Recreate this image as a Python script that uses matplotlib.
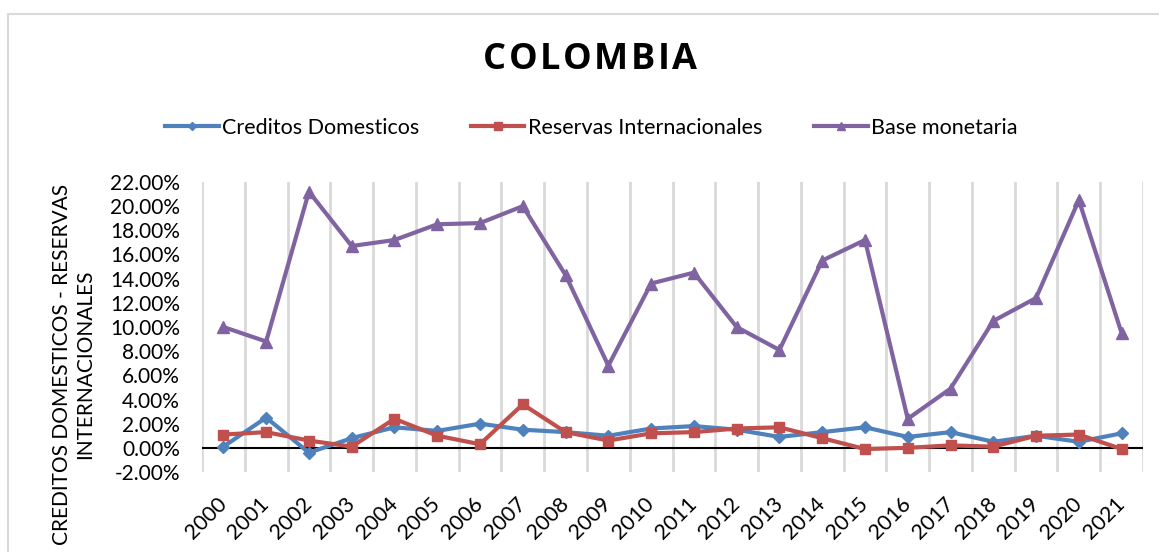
import matplotlib
matplotlib.use("Agg")
import matplotlib.pyplot as plt
from matplotlib.lines import Line2D
from matplotlib.patches import Rectangle
from matplotlib.ticker import FuncFormatter, MultipleLocator

years = [str(y) for y in range(2000, 2022)]

creditos_domesticos = [0.1, 2.5, -0.4, 0.8, 1.7, 1.4, 2.0, 1.5, 1.3, 1.0, 1.6,
                       1.8, 1.5, 0.9, 1.3, 1.7, 0.9, 1.3, 0.5, 1.0, 0.5, 1.2]
reservas_internacionales = [1.1, 1.3, 0.6, 0.1, 2.4, 1.0, 0.3, 3.6, 1.3, 0.6, 1.2,
                            1.3, 1.6, 1.7, 0.8, -0.1, 0.0, 0.2, 0.1, 1.0, 1.1, -0.1]
base_monetaria = [10.0, 8.8, 21.2, 16.7, 17.2, 18.5, 18.6, 20.0, 14.3, 6.8, 13.6,
                  14.5, 10.0, 8.1, 15.5, 17.2, 2.4, 4.9, 10.5, 12.4, 20.5, 9.5]

series_names = ["Creditos Domesticos", "Reservas Internacionales", "Base monetaria"]
colors = ["#4F81BD", "#C0504D", "#8064A2"]
markers = ["D", "s", "^"]
marker_sizes = [6, 7.5, 8]
title = "COLOMBIA"

plt.rcParams["font.family"] = ["Lato", "DejaVu Sans"]

W, H = 1159, 552
fig = plt.figure(figsize=(W / 100, H / 100), dpi=100)

# chart-area frame
fig.patches.append(Rectangle((8 / W, -0.1), 1.2, 1 - 14 / H + 0.1,
                             transform=fig.transFigure, fill=False,
                             edgecolor="#D9D9D9", linewidth=1.5))

ax = fig.add_axes([202 / W, 1 - 472 / H, 941 / W, 290 / H])

x = list(range(len(years)))
for vals, name, c, m, ms in zip(
        [creditos_domesticos, reservas_internacionales, base_monetaria],
        series_names, colors, markers, marker_sizes):
    ax.plot(x, vals, color=c, linewidth=3.0, marker=m, markersize=ms,
            markerfacecolor=c, markeredgecolor=c, label=name, zorder=3)

ax.set_xlim(-0.5, len(years) - 0.5)
ax.set_ylim(-2, 22)
ax.yaxis.set_major_locator(MultipleLocator(2))
ax.yaxis.set_major_formatter(FuncFormatter(lambda v, p: f"{v:.2f}%"))

# vertical gridlines between categories
for b in range(len(years) + 1):
    ax.axvline(b - 0.5, color="#D9D9D9", linewidth=2, zorder=1)
ax.axhline(0, color="black", linewidth=1.5, zorder=2)

for s in ax.spines.values():
    s.set_visible(False)

ax.set_xticks(x)
ax.set_xticklabels(years, rotation=45, ha="right", va="center",
                   rotation_mode="anchor", fontsize=15.5)
ax.tick_params(axis="x", length=0, pad=21)
ax.tick_params(axis="y", length=0, pad=16, labelsize=15)

fig.text(74 / W, 1 - 364 / H,
         "CREDITOS DOMESTICOS - RESERVAS\nINTERNACIONALES",
         rotation=90, ha="center", va="center", fontsize=15,
         multialignment="center", linespacing=1.2)

# letter-spaced bold title
renderer = fig.canvas.get_renderer()
tkw = dict(fontsize=26, fontweight="bold", family=["Open Sans", "DejaVu Sans"],
           va="center", ha="left")
tracking = 2.5  # extra pixels between letters
widths = []
for ch in title:
    t = fig.text(0, 0, ch, **tkw)
    widths.append(t.get_window_extent(renderer).width)
    t.remove()
total = sum(widths) + tracking * (len(title) - 1)
xpos = 590 - total / 2
for ch, w in zip(title, widths):
    fig.text(xpos / W, 1 - 60 / H, ch, **tkw)
    xpos += w + tracking

handles = [Line2D([0], [0], color=c, linewidth=3.0, marker=m, markersize=ms * 0.7,
                  markerfacecolor=c, markeredgecolor=c)
           for c, m, ms in zip(colors, markers, marker_sizes)]
fig.legend(handles, series_names, loc="center", bbox_to_anchor=(591 / W, 1 - 128 / H),
           ncol=3, frameon=False, fontsize=15.5, handlelength=2.5, handletextpad=0.15,
           columnspacing=2.4)

fig.savefig("out.png", dpi=100)
